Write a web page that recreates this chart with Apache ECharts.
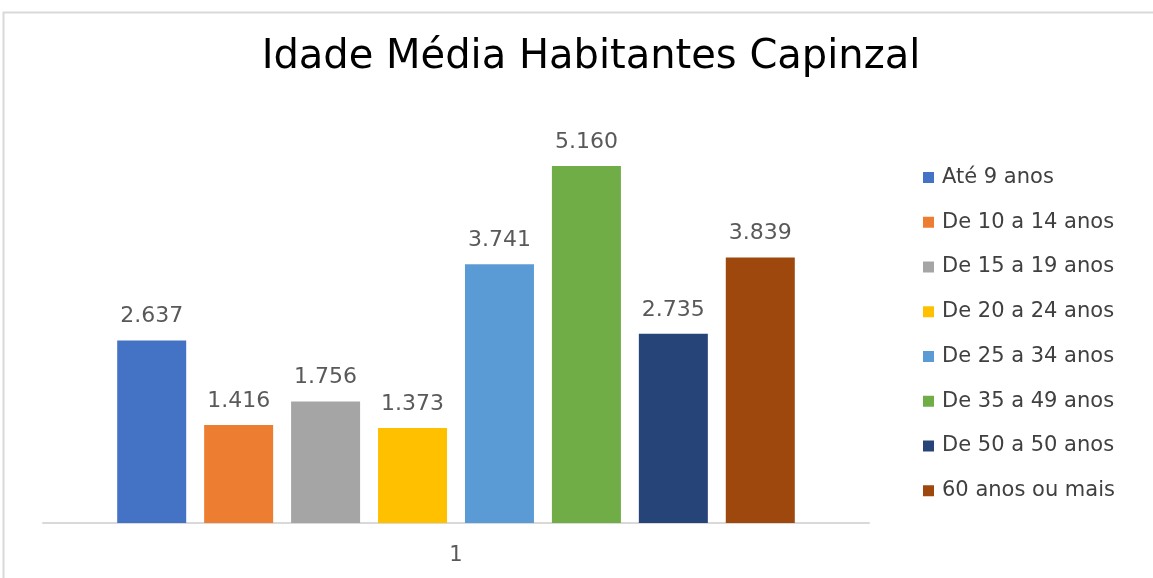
<!DOCTYPE html>
<html>
<head>
<meta charset="utf-8">
<script src="https://cdn.jsdelivr.net/npm/echarts@6/dist/echarts.min.js"></script>
<style>
  html, body { margin: 0; padding: 0; background: #fff; }
  #chart { width: 1153px; height: 578px; }
</style>
</head>
<body>
<div id="chart"></div>
<script>
// categorias (só uma: "1") e faixas etárias
const categories = ['1'];
const seriesNames = ['Até 9 anos', 'De 10 a 14 anos', 'De 15 a 19 anos', 'De 20 a 24 anos',
  'De 25 a 34 anos', 'De 35 a 49 anos', 'De 50 a 50 anos', '60 anos ou mais'];
const seriesValues = [2.637, 1.416, 1.756, 1.373, 3.741, 5.160, 2.735, 3.839];
const colors = ['#4472C4', '#ED7D31', '#A5A5A5', '#FFC000', '#5B9BD5', '#70AD47', '#264478', '#9E480E'];

const chart = echarts.init(document.getElementById('chart'));

let series = seriesNames.map((name, i) => ({
  name: name,
  type: 'bar',
  barWidth: 69,
  barGap: '26%',
  data: [seriesValues[i]],
  itemStyle: { color: colors[i] },
  label: {
    show: true,
    position: 'top',
    distance: 13,
    color: '#595959',
    fontSize: 22,
    fontFamily: 'DejaVu Sans',
    formatter: p => p.value.toFixed(3)
  }
}));

let option = {
  animation: false,
  title: {
    text: 'Idade Média Habitantes Capinzal',
    left: 586,
    textAlign: 'center',
    top: 33,
    textStyle: { fontFamily: 'DejaVu Sans', fontSize: 40, fontWeight: 'normal', color: '#000' }
  },
  graphic: [{
    type: 'rect',
    shape: { x: 3.5, y: 12.5, width: 1170, height: 600 },
    style: { fill: 'none', stroke: '#d9d9d9', lineWidth: 2 },
    silent: true
  }],
  legend: {
    orient: 'vertical',
    left: 918,
    top: 162,
    itemWidth: 11,
    itemHeight: 11,
    itemGap: 23.75,
    icon: 'rect',
    textStyle: { fontFamily: 'DejaVu Sans', fontSize: 21, color: '#404040', padding: [0, 0, 0, 3] },
    data: seriesNames
  },
  grid: { left: 43, right: 284, top: 108, bottom: 55 },
  xAxis: {
    type: 'category',
    data: categories,
    axisLine: { lineStyle: { color: '#d9d9d9', width: 2 } },
    axisTick: { show: false },
    axisLabel: { color: '#595959', fontSize: 21, fontFamily: 'DejaVu Sans', margin: 22 }
  },
  yAxis: {
    type: 'value',
    min: 0,
    max: 6,
    show: false,
    splitLine: { show: false }
  },
  series: series
};

option && chart.setOption(option);
</script>
</body>
</html>
